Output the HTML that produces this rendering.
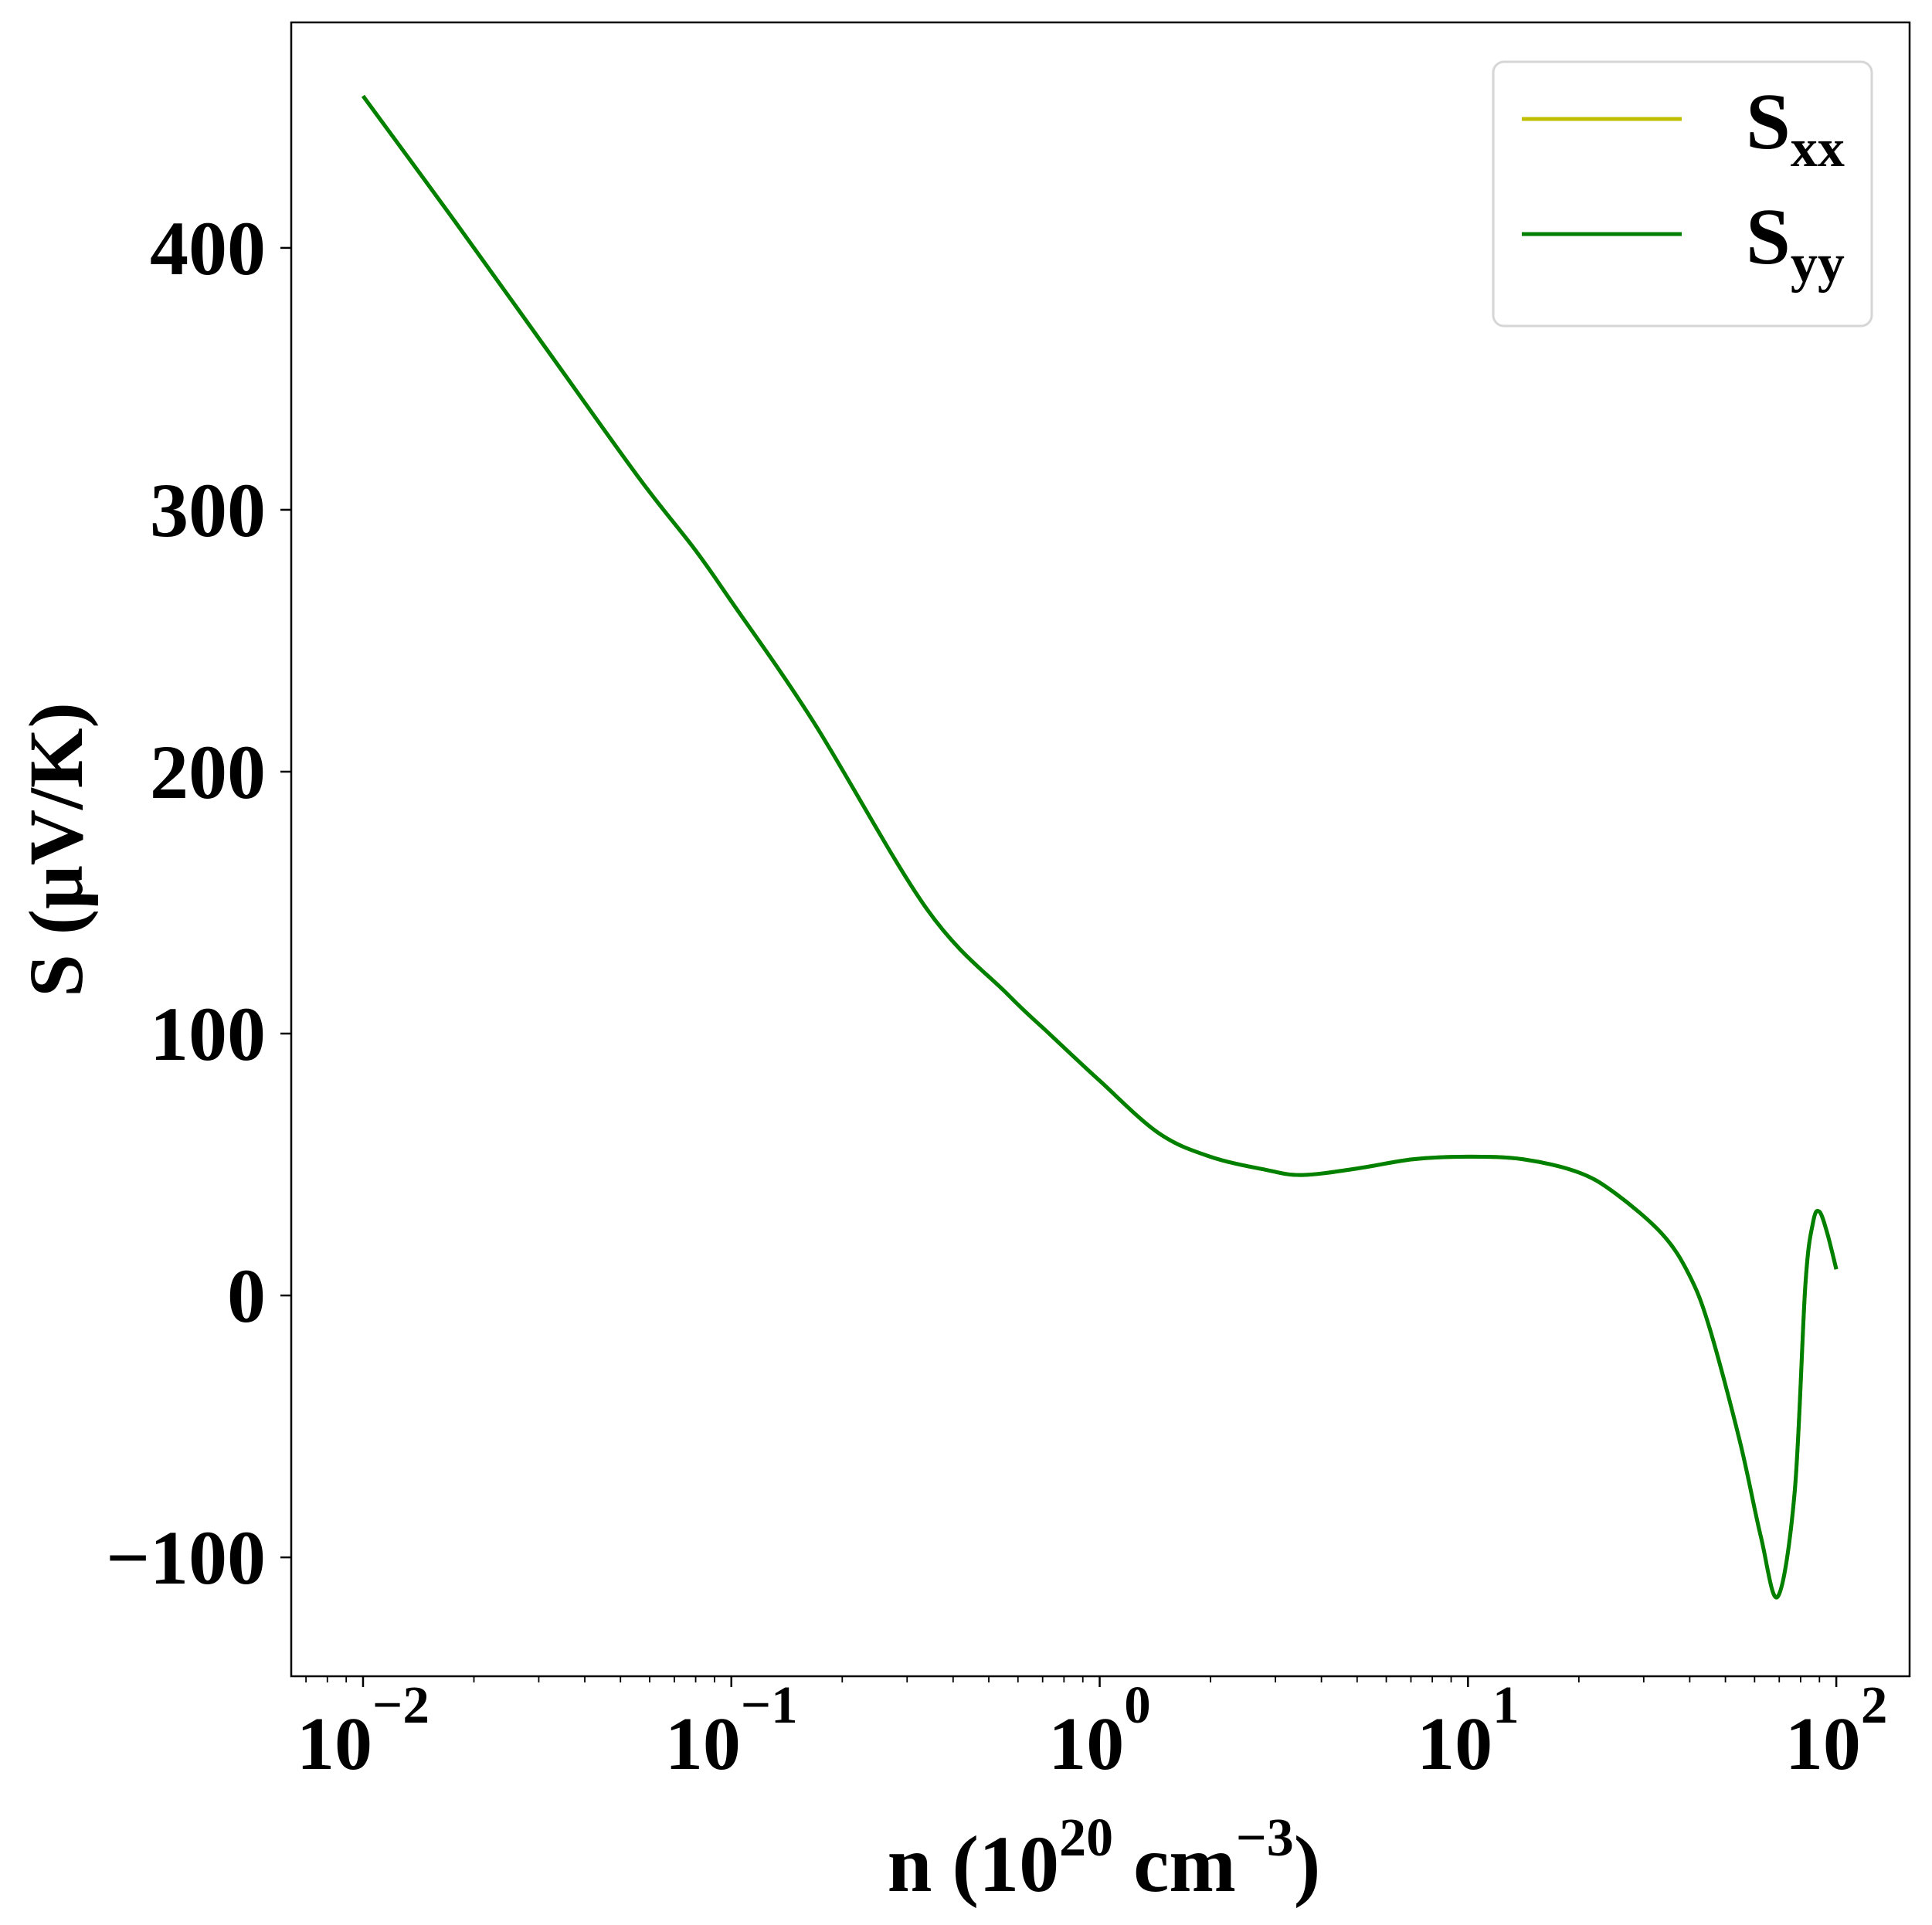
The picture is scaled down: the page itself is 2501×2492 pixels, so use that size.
<!DOCTYPE html>
<html><head><meta charset="utf-8"><style>
body{margin:0;background:#fff}
svg{display:block;font-family:"Liberation Serif",serif;font-weight:bold}
</style></head><body>
<svg id="chart" width="2501" height="2492" viewBox="0 0 2501 2492" xmlns="http://www.w3.org/2000/svg">
<g id="plot"></g>
</svg>
<script>
const logN = [-2,-1.75,-1.5,-1.25,-1.1,-1,-0.777,-0.469,-0.25,-0.135,0,0.16,0.3,0.45,0.55,0.7,0.85,1,1.15,1.3,1.4,1.527,1.6,1.655,1.738,1.795,1.841,1.887,1.916,1.937,1.954,1.975,2];
const sxx = [458,410,361,312,285,265,219,147.5,115,99.7,82,62,53,48,46,48.5,52,53,52,47,39,23.5,8,-12,-55.6,-92,-115,-75,4,28,32,24,10];
const syy = [458,410,361,312,285,265,219,147.5,115,99.7,82,62,53,48,46,48.5,52,53,52,47,39,23.5,8,-12,-55.6,-92,-115,-75,4,28,32,24,10];
const yTicks = [-100,0,100,200,300,400];
const yTickLabels = ["\u2212100","0","100","200","300","400"];
const xDecades = [-2,-1,0,1,2];
const xTickLabels = ["\u22122","\u22121","0","1","2"];

const NS="http://www.w3.org/2000/svg";
const L=377,R=2472,T=29,B=2170;
const xMin=-2.195,xMax=2.199,yMin=-145.4,yMax=486.1;
const X=v=>L+(v-xMin)/(xMax-xMin)*(R-L);
const Y=v=>B-(v-yMin)/(yMax-yMin)*(B-T);
const g=document.getElementById('plot');
function mk(tag,attrs,parent){const e=document.createElementNS(NS,tag);for(const k in attrs)e.setAttribute(k,attrs[k]);(parent||g).appendChild(e);return e;}

function pathFor(xs,ys){
  const p=xs.map((x,i)=>[X(x),Y(ys[i])]);
  let d=`M${p[0][0]},${p[0][1]}`;
  for(let i=0;i<p.length-1;i++){
    const p0=p[i-1]||p[i],p1=p[i],p2=p[i+1],p3=p[i+2]||p2;
    const c1=[p1[0]+(p2[0]-p0[0])/6,p1[1]+(p2[1]-p0[1])/6];
    const c2=[p2[0]-(p3[0]-p1[0])/6,p2[1]-(p3[1]-p1[1])/6];
    d+=` C${c1[0]},${c1[1]} ${c2[0]},${c2[1]} ${p2[0]},${p2[1]}`;
  }
  return d;
}
const l1=mk('path',{d:pathFor(logN,sxx),fill:'none',stroke:'#bfbf00','stroke-width':5});


const l2=mk('path',{d:pathFor(logN,syy),fill:'none',stroke:'#008000','stroke-width':5});



const fr=mk('rect',{x:L,y:T,width:R-L,height:B-T,fill:'none',stroke:'#000','stroke-width':2.5});



yTicks.forEach((v,i)=>{
  const t=mk('line',{x1:L-14,x2:L,y1:Y(v),y2:Y(v),stroke:'#000','stroke-width':2.5});
  
  
  const tx=mk('text',{x:344,y:Y(v)+34,'text-anchor':'end','font-size':100});
  tx.textContent=yTickLabels[i];
  
  
});
for(let d=-3;d<=2;d++){
  for(let m=1;m<10;m++){
    const lv=d+Math.log10(m);
    if(lv<xMin||lv>xMax)continue;
    const major=m===1;
    const t=mk('line',{x1:X(lv),x2:X(lv),y1:B,y2:B+(major?14:8),stroke:'#000','stroke-width':major?2.5:1.8});
    
    
  }
}
xDecades.forEach((v,i)=>{
  const tx=mk('text',{x:X(v),y:2290,'text-anchor':'middle','font-size':98});
  tx.textContent='10';
  const s=mk('tspan',{dy:-60,'font-size':69},tx);
  s.textContent=xTickLabels[i];
  
  
});
const xt=mk('text',{x:1429,y:2448,'text-anchor':'middle','font-size':104});
xt.innerHTML='n (10<tspan dy="-46" font-size="70">20</tspan><tspan dy="46"> cm</tspan><tspan dy="-46" font-size="70">\u22123</tspan><tspan dy="46">)</tspan>';


const yt=mk('text',{x:0,y:0,'text-anchor':'middle','font-size':100,transform:'translate(106,1100) rotate(-90)'});
yt.textContent='S (\u03bcV/K)';



const lg=mk('g',{});


mk('rect',{x:1933,y:80,width:490,height:342,rx:14,fill:'#fff','fill-opacity':0.8,stroke:'#d6d6d6','stroke-width':3},lg);
[['#bfbf00','xx',154,'legend-entry-sxx'],['#008000','yy',303,'legend-entry-syy']].forEach(e=>{
  const eg=mk('g',{},lg);
  
  
  mk('line',{x1:1970,x2:2177,y1:e[2],y2:e[2],stroke:e[0],'stroke-width':5},eg);
  const t=mk('text',{x:2260,y:e[2]+38,'font-size':104},eg);
  t.innerHTML='S<tspan dy="23" font-size="70">'+e[1]+'</tspan>';
});
</script>
</body></html>
